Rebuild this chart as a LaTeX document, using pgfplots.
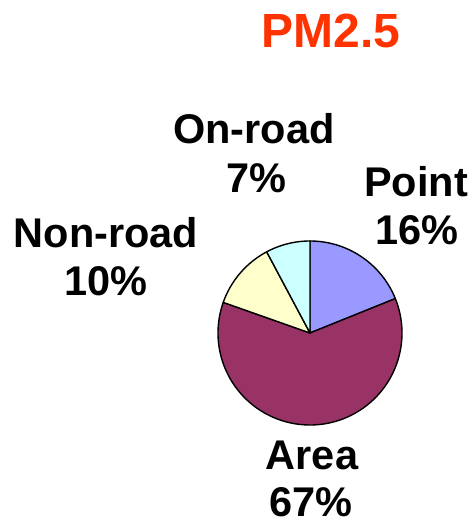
\documentclass[border=0pt]{standalone}
\usepackage{fontspec}
\setmainfont{Liberation Sans}
\usepackage{pgfplots}
\pgfplotsset{compat=1.18}
\definecolor{cPoint}{HTML}{9999FF}
\definecolor{cArea}{HTML}{993366}
\definecolor{cNonroad}{HTML}{FFFFCC}
\definecolor{cOnroad}{HTML}{CCFFFF}
\definecolor{cTitle}{HTML}{FF3300}
% slice shares as drawn in the picture (percent); printed labels: 16, 67, 10, 7
\def\sPoint{18.9}
\def\sArea{61.5}
\def\sNonroad{11.8}
\def\sOnroad{7.8}
\begin{document}
\begin{tikzpicture}
\pgfmathsetmacro{\aA}{90}
\pgfmathsetmacro{\aB}{\aA-3.6*\sPoint}
\pgfmathsetmacro{\aC}{\aB-3.6*\sArea}
\pgfmathsetmacro{\aD}{\aC-3.6*\sNonroad}
\pgfmathsetmacro{\aE}{\aD-3.6*\sOnroad}
\begin{axis}[
  width=472pt, height=524pt, scale only axis,
  xmin=0, xmax=472, ymin=0, ymax=524,
  hide axis, clip=false,
]
\addplot[fill=cPoint, draw=black, line width=1.4pt, line join=round, domain=\aB:\aA, samples=60, variable=\t]
  ({310+92*cos(\t)}, {191+92*sin(\t)}) -- (axis cs:310,191) -- cycle;
\addplot[fill=cArea, draw=black, line width=1.4pt, line join=round, domain=\aC:\aB, samples=160, variable=\t]
  ({310+92*cos(\t)}, {191+92*sin(\t)}) -- (axis cs:310,191) -- cycle;
\addplot[fill=cNonroad, draw=black, line width=1.4pt, line join=round, domain=\aD:\aC, samples=40, variable=\t]
  ({310+92*cos(\t)}, {191+92*sin(\t)}) -- (axis cs:310,191) -- cycle;
\addplot[fill=cOnroad, draw=black, line width=1.4pt, line join=round, domain=\aE:\aD, samples=30, variable=\t]
  ({310+92*cos(\t)}, {191+92*sin(\t)}) -- (axis cs:310,191) -- cycle;

\tikzset{lab/.style={anchor=base, inner sep=0pt, font=\fontsize{41.5}{50}\selectfont\bfseries}}
\node[anchor=base, inner sep=0pt, text=cTitle, font=\fontsize{48}{58}\selectfont\bfseries] at (axis cs:331,476) {PM2.5};
\node[lab] at (axis cs:254,380) {On-road};
\node[lab] at (axis cs:256,331) {7\%};
\node[lab] at (axis cs:416,327) {Point};
\node[lab] at (axis cs:417,279) {16\%};
\node[lab] at (axis cs:106,276) {Non-road};
\node[lab] at (axis cs:106,228) {10\%};
\node[lab] at (axis cs:312,54) {Area};
\node[lab] at (axis cs:311,7) {67\%};
\end{axis}
\pgfresetboundingbox
\path (current axis.south west) rectangle (current axis.north east);
\end{tikzpicture}
\end{document}
